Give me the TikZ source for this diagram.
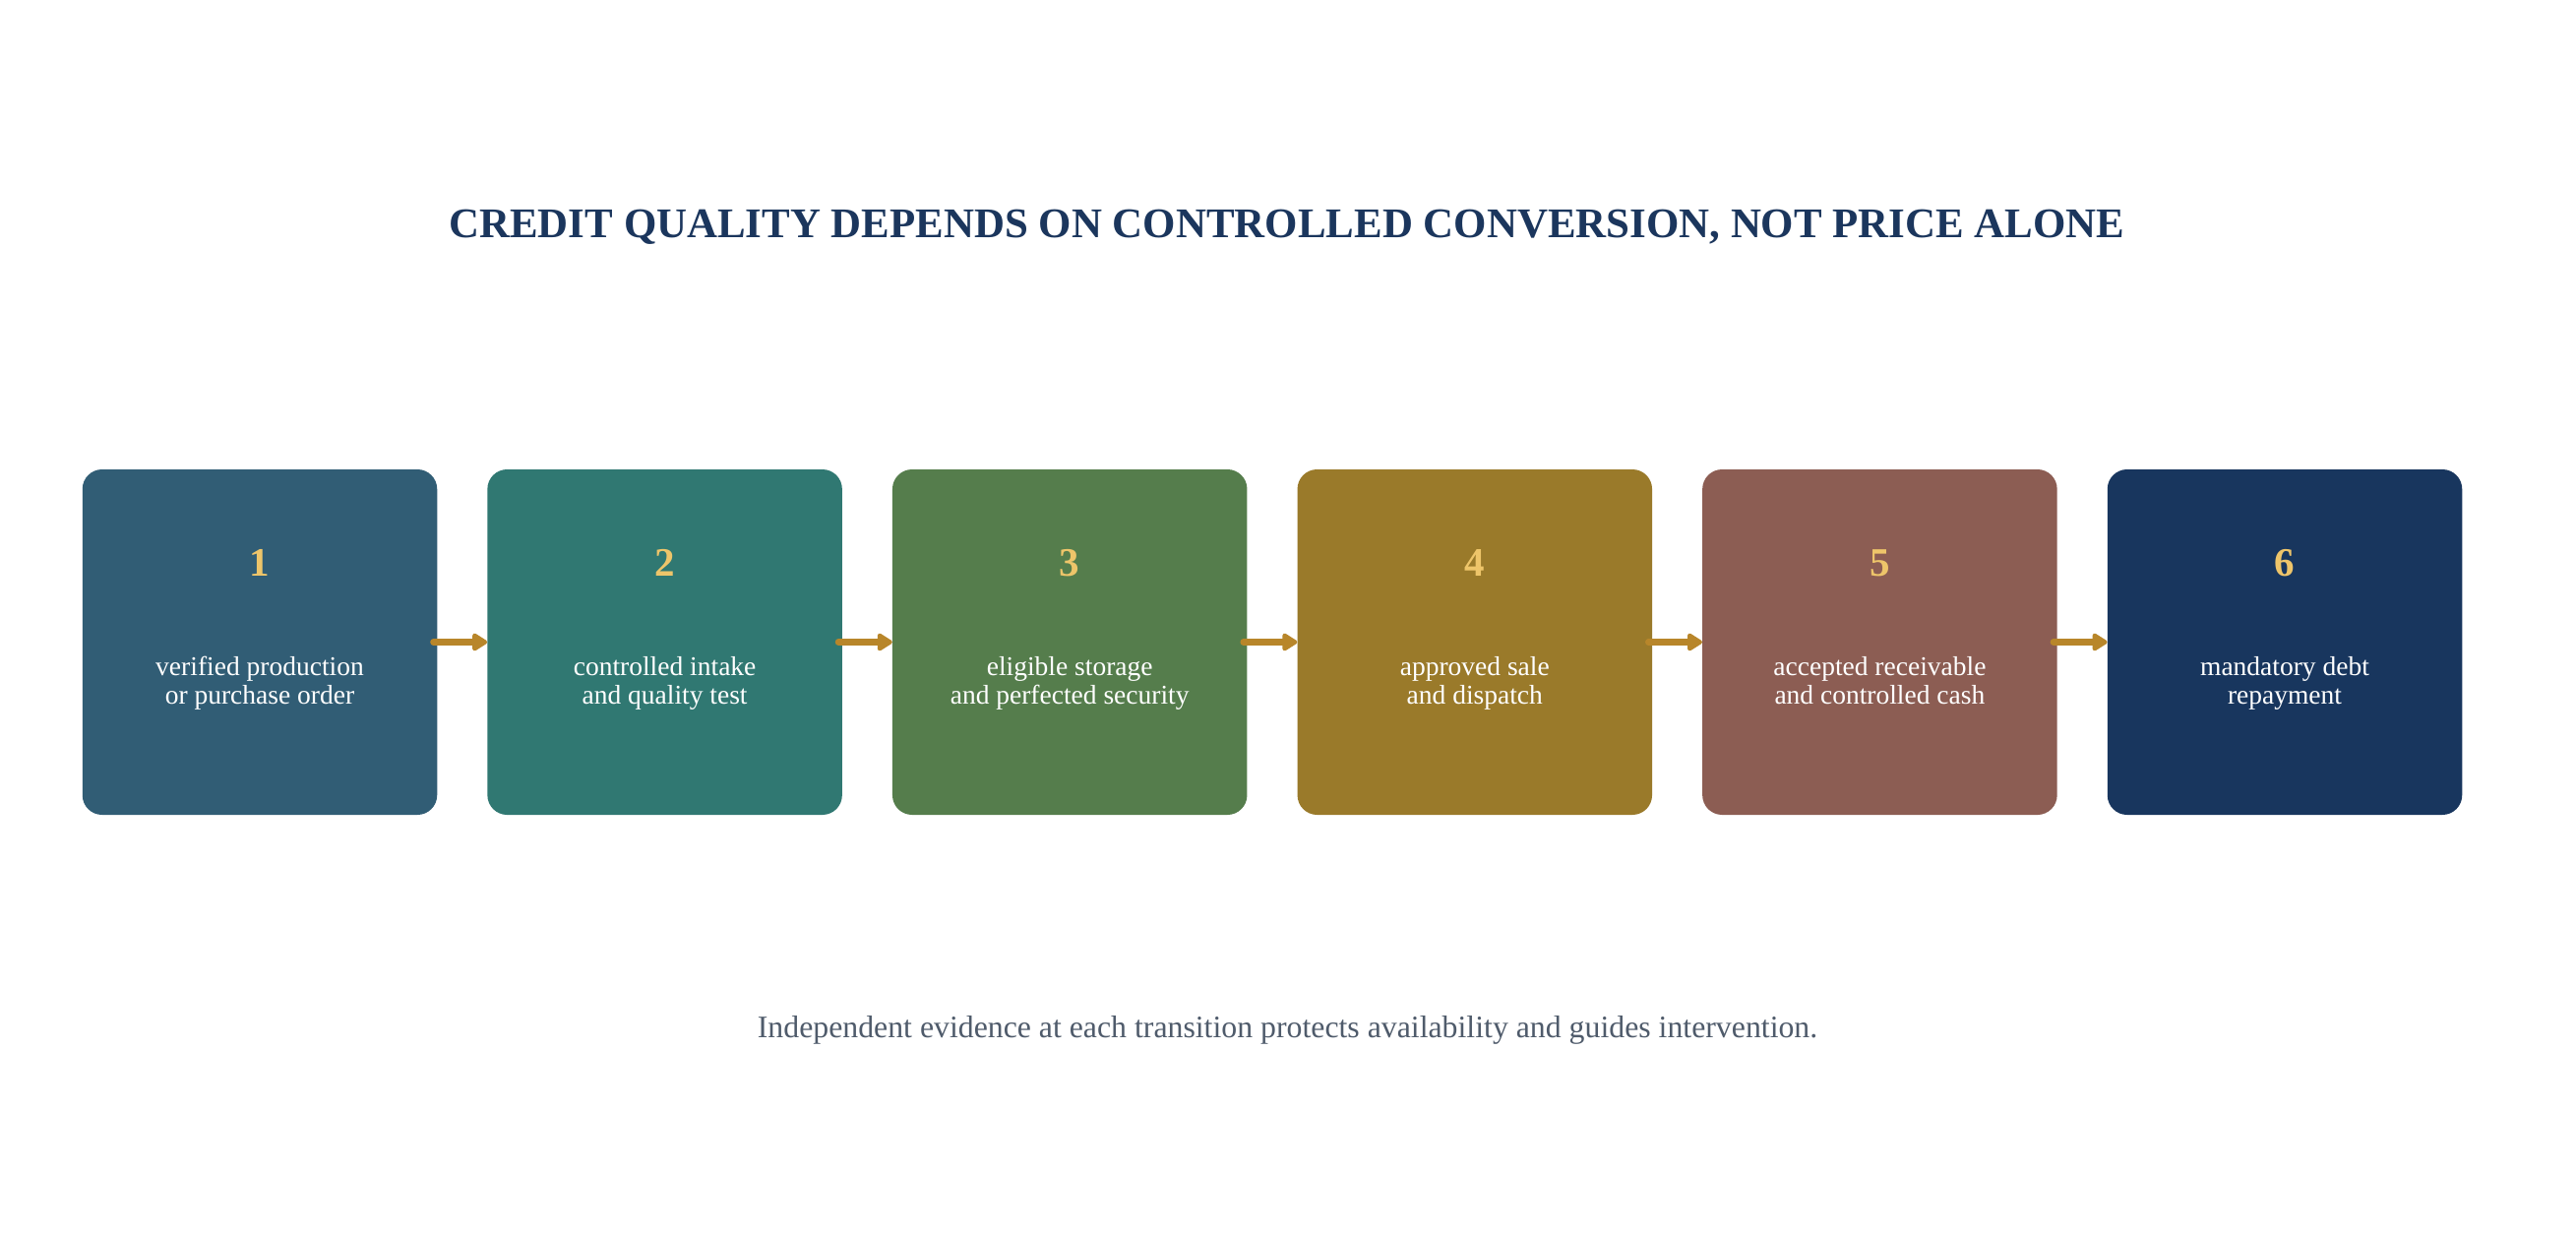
\documentclass[tikz,border=0pt]{standalone}
\usepackage{fontspec}
\setmainfont{Liberation Serif}
\usetikzlibrary{arrows.meta}
\definecolor{cA}{HTML}{315D75}
\definecolor{cB}{HTML}{307872}
\definecolor{cC}{HTML}{557D4C}
\definecolor{cD}{HTML}{9A7A2A}
\definecolor{cE}{HTML}{8C5D53}
\definecolor{cF}{HTML}{18365E}
\definecolor{titlec}{HTML}{1B365D}
\definecolor{goldc}{HTML}{EEC56A}
\definecolor{arrowc}{HTML}{B8862A}
\definecolor{footc}{HTML}{4F5B6B}
\begin{document}
\begin{tikzpicture}[x=1pt,y=-1pt,
  stepbox/.style={rounded corners=20pt, minimum width=360.5pt, minimum height=351pt, inner sep=0pt, draw=none},
  numlabel/.style={text=goldc, font=\fontsize{41}{41}\selectfont\bfseries, anchor=base, inner sep=0pt},
  desc/.style={text=white, font=\fontsize{27.5}{29}\selectfont, align=center, anchor=base, inner sep=0pt},
  titlestyle/.style={text=titlec, font=\fontsize{42.9}{43}\selectfont\bfseries, anchor=base, inner sep=0pt},
  footstyle/.style={text=footc, font=\fontsize{31.8}{32}\selectfont, anchor=base, inner sep=0pt},
  flow/.style={draw=arrowc, line width=6.5pt, line cap=round, -{Triangle[length=17pt,width=20pt,round]}}
]
\useasboundingbox[fill=white] (0,0) rectangle (2618,1254);
\node[titlestyle] (title) at (1308,241) {CREDIT QUALITY DEPENDS ON CONTROLLED CONVERSION, NOT PRICE ALONE};
\foreach \i/\c/\a/\b in {1/cA/verified production/or purchase order,
                         2/cB/controlled intake/and quality test,
                         3/cC/eligible storage/and perfected security,
                         4/cD/approved sale/and dispatch,
                         5/cE/accepted receivable/and controlled cash,
                         6/cF/mandatory debt/repayment} {
  \node[stepbox, fill=\c] (b\i) at ({264+411.6*(\i-1)},652.5) {};
  \node[numlabel] (n\i) at ({264+411.6*(\i-1)},585) {\i};
  \node[desc] (t\i) at ({264+411.6*(\i-1)},715) {\a\\\b};
}
\foreach \i [evaluate=\i as \j using {int(\i+1)}] in {1,...,5}
  \draw[flow] ([xshift=-4pt]b\i.east) -- (b\j.west);
\node[footstyle] (foot) at (1308.5,1054) {Independent evidence at each transition protects availability and guides intervention.};
\end{tikzpicture}
\end{document}
